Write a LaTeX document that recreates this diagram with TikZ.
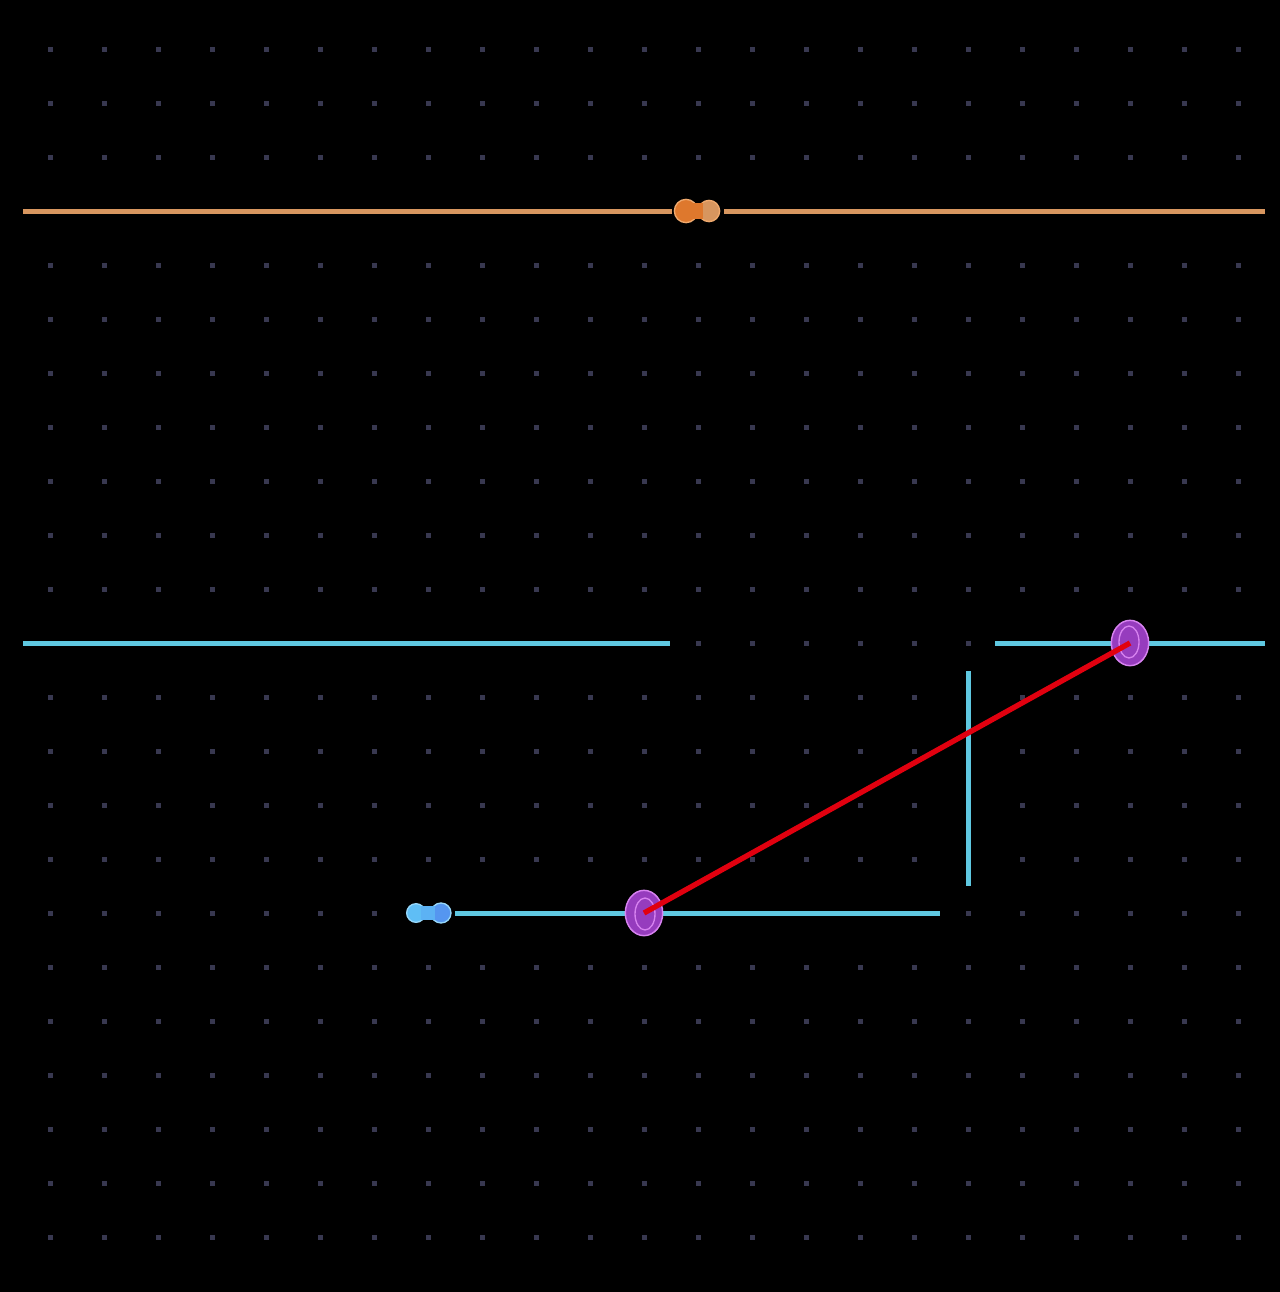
\documentclass[tikz,border=0pt]{standalone}
\usepackage{amsmath}
\usetikzlibrary{shapes.geometric}

\definecolor{gridDot}{RGB}{56,56,80}
\definecolor{wireCyan}{RGB}{95,200,225}
\definecolor{wireOrange}{RGB}{215,150,95}
\definecolor{lampDark}{RGB}{222,120,45}
\definecolor{lampLight}{RGB}{215,150,95}
\definecolor{lampEdge}{RGB}{240,170,110}
\definecolor{ledLeft}{RGB}{95,190,245}
\definecolor{ledRight}{RGB}{85,150,240}
\definecolor{ledEdge}{RGB}{150,215,250}
\definecolor{pinFill}{RGB}{150,60,190}
\definecolor{pinEdge}{RGB}{215,130,240}
\definecolor{laserRed}{RGB}{225,0,15}

\tikzset{
  wire/.style={line width=3.75pt},
  pinring/.style={ellipse, draw=pinEdge, fill=pinFill, line width=1.1pt,
    minimum width=28pt, minimum height=34pt, inner sep=0pt},
  pincore/.style={ellipse, draw=pinEdge, line width=1pt,
    minimum width=15pt, minimum height=24pt, inner sep=0pt},
  bulb/.style={circle, line width=1pt, minimum size=16pt, inner sep=0pt}
}

\begin{document}
\begin{tikzpicture}[x=0.75pt,y=0.75pt,yscale=-1,xscale=1]
%background and frame
\fill[black] (0,0) rectangle (1280,1292);
\useasboundingbox (0,0) rectangle (1280,1292);

%Dot grid
\foreach \i in {0,...,22}
  \foreach \j in {0,...,22}
    \fill[gridDot] ({50+54*\i-2.5},{49+54*\j-2.5}) rectangle ++(5,5);

%Top rail (orange)
\coordinate (railTL) at (23,211);
\coordinate (railTR) at (1265,211);
\node[bulb, draw=lampEdge, fill=lampLight] (lampB) at (709,211) {};
\node[bulb, draw=lampEdge, fill=lampDark, minimum size=17.5pt] (lampA) at (686,211) {};
\fill[lampDark] (690,203) rectangle (703,219);
\draw[wire, wireOrange] (railTL) -- (672,211);
\draw[wire, wireOrange] (724,211) -- (railTR);

%Middle rail (cyan)
\coordinate (midL) at (23,643);
\coordinate (midLend) at (670,643);
\coordinate (midRstart) at (995,643);
\coordinate (midR) at (1265,643);
\draw[wire, wireCyan] (midL) -- (midLend);
\draw[wire, wireCyan] (midRstart) -- (midR);

%Vertical mirror
\coordinate (mirTop) at (968,671);
\coordinate (mirBot) at (968,886);
\draw[wire, wireCyan] (mirTop) -- (mirBot);

%Bottom rail with source
\node[bulb, draw=ledEdge, fill=ledRight, minimum size=15pt] (ledB) at (441,913) {};
\node[bulb, draw=ledEdge, fill=ledLeft, minimum size=14pt] (ledA) at (416,913) {};
\fill[ledLeft!70!ledRight] (421,906) rectangle (435,920);
\coordinate (lowL) at (455,913);
\coordinate (lowR) at (940,913);
\draw[wire, wireCyan] (lowL) -- (lowR);

%Pins
\node[pinring] (pinLow) at (644,913) {};
\node[pincore] at (645,914) {};
\node[pinring] (pinHigh) at (1130,643) {};
\node[pincore] at (1129,642) {};

%Beam
\draw[laserRed, line width=4pt] (pinLow.center) -- (pinHigh.center);

\end{tikzpicture}
\end{document}
